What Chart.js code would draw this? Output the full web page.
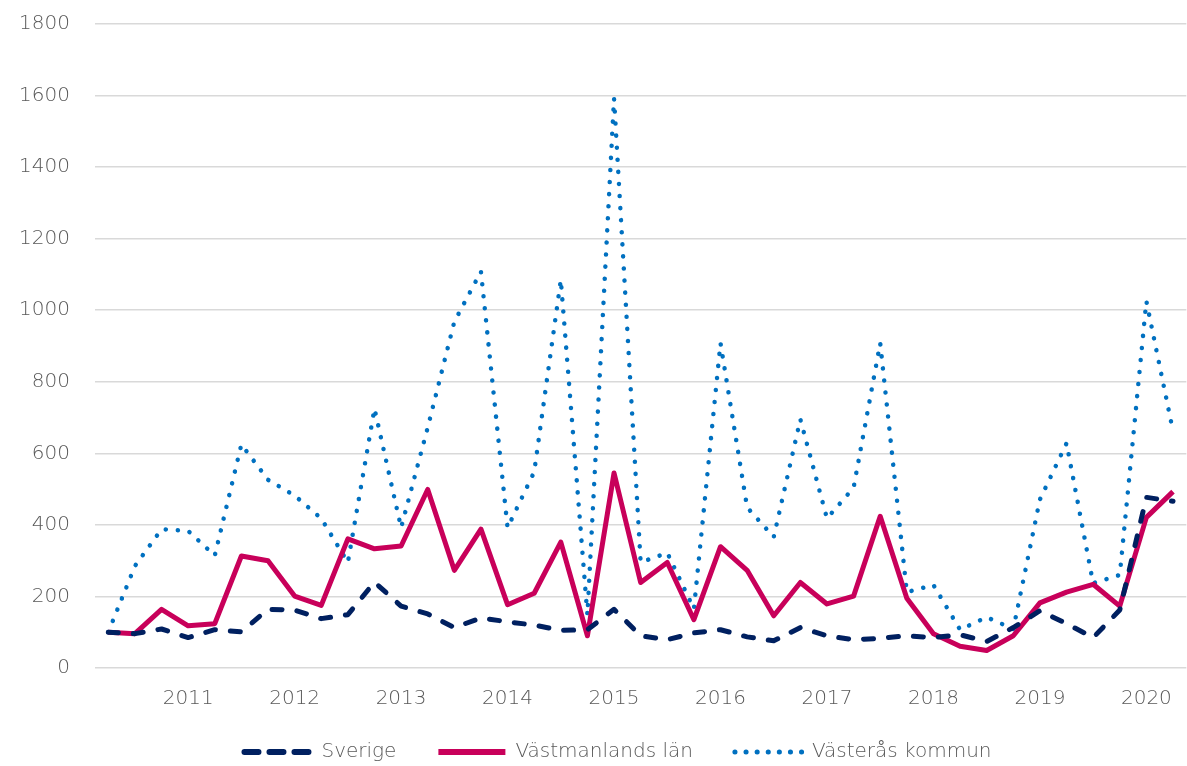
<!DOCTYPE html>
<html>
<head>
<meta charset="utf-8">
<script src="https://cdn.jsdelivr.net/npm/chart.js@4.4.1/dist/chart.umd.min.js"></script>
<style>
  html, body { margin: 0; padding: 0; background: #fff; overflow: hidden; }
  #wrap { position: relative; width: 1192px; height: 782px; }
</style>
</head>
<body>
<div id="wrap"><canvas id="chart"></canvas></div>
<script>
// Kvartal (index, startkvartal = 100)
const quarters = [
  '2010 K2', '2010 K3', '2010 K4',
  '2011 K1', '2011 K2', '2011 K3', '2011 K4',
  '2012 K1', '2012 K2', '2012 K3', '2012 K4',
  '2013 K1', '2013 K2', '2013 K3', '2013 K4',
  '2014 K1', '2014 K2', '2014 K3', '2014 K4',
  '2015 K1', '2015 K2', '2015 K3', '2015 K4',
  '2016 K1', '2016 K2', '2016 K3', '2016 K4',
  '2017 K1', '2017 K2', '2017 K3', '2017 K4',
  '2018 K1', '2018 K2', '2018 K3', '2018 K4',
  '2019 K1', '2019 K2', '2019 K3', '2019 K4',
  '2020 K1', '2020 K2',
];

const sverige = [
  100, 96, 109, 85, 107, 101, 164, 162, 138, 149, 240,
  173, 151, 113, 140, 129, 120, 105, 107, 164, 90, 79,
  98, 107, 87, 76, 113, 90, 79, 83, 90, 85, 93,
  74, 113, 160, 124, 85, 162, 477, 466,
];

const vastmanland = [
  100, 96, 164, 118, 124, 313, 300, 201, 175, 361, 333,
  341, 499, 273, 388, 177, 209, 352, 90, 545, 239, 295,
  135, 339, 273, 146, 239, 179, 201, 424, 195, 96, 61,
  49, 90, 182, 212, 234, 173, 421, 493,
];

const vasteras = [
  100, 285, 388, 383, 314, 625, 526, 482, 418, 295, 725,
  392, 672, 968, 1108, 392, 548, 1085, 148, 1592, 295, 322,
  165, 908, 449, 366, 695, 418, 504, 908, 212, 232, 107,
  142, 109, 471, 628, 237, 260, 1025, 662,
];

// Y-axelns skalsteg
const yTicks = [0, 200, 400, 600, 800, 1000, 1200, 1400, 1600, 1800];

const textColor = '#595959';
const font = { family: "'DejaVu Sans', sans-serif", size: 20, weight: 200 };

// Legendens linjer ritas lite annorlunda än i diagrammet
const legendStyles = [
  { strokeStyle: '#002060', lineWidth: 6, lineDash: [14, 11], lineCap: 'round' },
  { strokeStyle: '#c8005a', lineWidth: 6, lineDash: [], lineCap: 'butt' },
  { strokeStyle: '#0070c0', lineWidth: 5, lineDash: [0.1, 11], lineCap: 'round' },
];

// flyttar legenden så att den hamnar som i originalet
const legendShift = {
  id: 'legendShift',
  afterLayout(chart) {
    const lg = chart.legend;
    lg.left += 22;
    lg.right += 22;
    lg.top -= 10;
    lg.bottom -= 10;
  },
};

const data = {
  labels: quarters,
  datasets: [
    {
      label: 'Sverige',
      data: sverige,
      borderColor: '#002060',
      borderWidth: 5,
      borderDash: [10, 15],
      borderCapStyle: 'round',
    },
    {
      label: 'Västmanlands län',
      data: vastmanland,
      borderColor: '#c8005a',
      borderWidth: 5,
    },
    {
      label: 'Västerås kommun',
      data: vasteras,
      borderColor: '#0070c0',
      borderWidth: 4.5,
      borderDash: [0.1, 12],
      borderCapStyle: 'round',
    },
  ],
};

const config = {
  type: 'line',
  data: data,
  options: {
    responsive: true,
    maintainAspectRatio: false,
    animation: false,
    layout: { padding: { top: 24, left: 0, right: 0, bottom: 0 } },
    elements: {
      line: { tension: 0, fill: false, borderJoinStyle: 'round' },
      point: { radius: 0, hoverRadius: 0 },
    },
    plugins: {
      tooltip: { enabled: false },
      legend: {
        position: 'bottom',
        labels: {
          usePointStyle: true,
          pointStyle: 'line',
          pointStyleWidth: 67,
          padding: 42,
          color: textColor,
          font: font,
          generateLabels: function (chart) {
            const items = Chart.defaults.plugins.legend.labels.generateLabels(chart);
            items.forEach((item, i) => Object.assign(item, legendStyles[i]));
            return items;
          },
        },
      },
    },
    scales: {
      x: {
        offset: true,
        grid: { display: false, drawTicks: false },
        border: { display: false },
        afterFit: function (scale) { scale.height = 42; },
        ticks: {
          autoSkip: false,
          maxRotation: 0,
          padding: 19,
          color: textColor,
          font: font,
          callback: function (value) {
            const q = this.getLabelForValue(value);
            return q.endsWith('K1') ? q.slice(0, 4) : '';
          },
        },
      },
      y: {
        min: yTicks[0],
        max: yTicks[yTicks.length - 1],
        afterFit: function (scale) { scale.width = 95; },
        afterBuildTicks: function (scale) {
          scale.ticks = yTicks.map((v) => ({ value: v }));
        },
        // osynliga tickmarkeringar ger avståndet till etiketterna
        grid: {
          color: '#d9d9d9',
          lineWidth: 1.5,
          drawTicks: true,
          tickLength: 25,
          tickColor: 'rgba(0, 0, 0, 0)',
        },
        border: { display: false },
        ticks: {
          padding: 0,
          color: textColor,
          font: font,
          callback: function (value) {
            return `${value}`;
          },
        },
      },
    },
  },
  plugins: [legendShift],
};

new Chart(document.getElementById('chart').getContext('2d'), config);
</script>
</body>
</html>
